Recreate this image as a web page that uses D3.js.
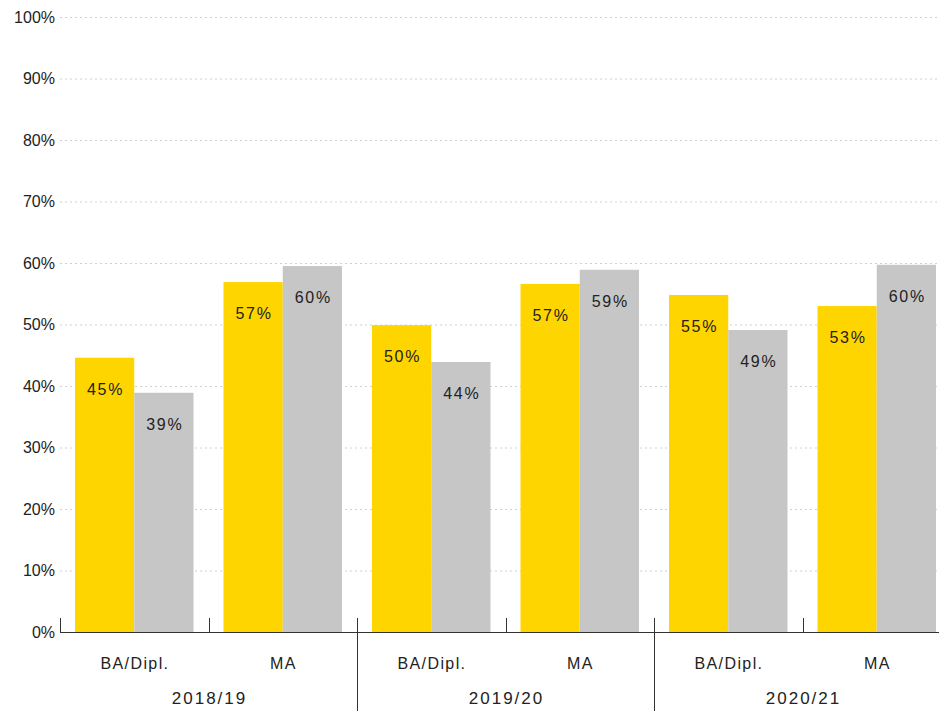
<!DOCTYPE html>
<html>
<head>
<meta charset="utf-8">
<script src="https://cdn.jsdelivr.net/npm/d3@7"></script>
<style>
  html, body { margin: 0; padding: 0; background: #fff; }
  svg { display: block; font-family: "Liberation Sans", Arial, sans-serif; }
</style>
</head>
<body>
<svg id="chart" width="939" height="711"></svg>
<script>
// Academic years and degree types
const years = ["2018/19", "2019/20", "2020/21"];
const degrees = ["BA/Dipl.", "MA"];
// Shares per year × degree (first series: yellow, second series: grey)
const seriesA = [44.6, 56.9, 49.9, 56.6, 54.8, 53.0];
const seriesB = [38.9, 59.5, 43.9, 58.9, 49.1, 59.7];
const yTicks = [0, 10, 20, 30, 40, 50, 60, 70, 80, 90, 100];

const colors = ["#FFD500", "#C6C6C6"];
const textColor = "#222";

const svg = d3.select("#chart");
const x0 = 60, x1 = 951, yBottom = 632, yTop = 17;

// One band per year/degree pair
const cells = [];
years.forEach((yr, i) => degrees.forEach((dg, j) => {
  const k = i * degrees.length + j;
  cells.push({ key: yr + "|" + dg, year: yr, degree: dg, values: [seriesA[k], seriesB[k]] });
}));

const x = d3.scaleBand().domain(cells.map(d => d.key)).range([x0, x1]).paddingInner(0).paddingOuter(0);
const xi = d3.scaleBand().domain([0, 1]).range([15, x.bandwidth() - 15]);
const y = d3.scaleLinear().domain([0, 100]).range([yBottom, yTop]);

// Dotted horizontal gridlines
svg.append("g").selectAll("line").data(yTicks.filter(t => t > 0)).join("line")
  .attr("x1", x0).attr("x2", 939)
  .attr("y1", d => y(d) + 0.5).attr("y2", d => y(d) + 0.5)
  .attr("stroke", "#d0d0d0").attr("stroke-width", 1).attr("stroke-dasharray", "2,3");

// Y axis labels
const yAxis = d3.axisLeft(y).tickValues(yTicks).tickFormat(d => d + "%").tickSize(0).tickPadding(5);
const gy = svg.append("g").attr("transform", `translate(${x0},0)`).call(yAxis);
gy.select(".domain").remove();
gy.selectAll("text").attr("fill", textColor).style("font-size", "16px");

// Bars
const groups = svg.append("g").selectAll("g").data(cells).join("g")
  .attr("transform", d => `translate(${x(d.key)},0)`);
groups.selectAll("rect").data(d => d.values.map((v, i) => ({ v, i }))).join("rect")
  .attr("x", d => xi(d.i)).attr("width", xi.bandwidth())
  .attr("y", d => y(d.v)).attr("height", d => yBottom - y(d.v))
  .attr("fill", d => colors[d.i]);

// Value labels inside the bars
groups.selectAll("text").data(d => d.values.map((v, i) => ({ v, i }))).join("text")
  .attr("x", d => xi(d.i) + xi.bandwidth() / 2 + 1)
  .attr("y", d => y(d.v) + 33)
  .attr("text-anchor", "middle").attr("dominant-baseline", "middle")
  .attr("fill", textColor).style("font-size", "16px").style("letter-spacing", "1.8px")
  .text(d => Math.round(d.v) + "%");

// Baseline
svg.append("line").attr("x1", x0).attr("x2", 939).attr("y1", yBottom + 0.5).attr("y2", yBottom + 0.5)
  .attr("stroke", "#333").attr("stroke-width", 1.2);

// Band separators: short ticks within a year, long lines between years
const boundaries = cells.map((d, i) => ({ pos: x(d.key), yearStart: i % degrees.length === 0 && i > 0 }));
svg.append("g").selectAll("line").data(boundaries).join("line")
  .attr("x1", d => Math.round(d.pos) + 0.5).attr("x2", d => Math.round(d.pos) + 0.5)
  .attr("y1", yBottom - 14).attr("y2", d => d.yearStart ? 711 : yBottom)
  .attr("stroke", "#333").attr("stroke-width", 1);

// Degree labels
svg.append("g").selectAll("text").data(cells).join("text")
  .attr("x", d => x(d.key) + x.bandwidth() / 2 + 0.7).attr("y", 665)
  .attr("text-anchor", "middle").attr("dominant-baseline", "middle")
  .attr("fill", textColor).style("font-size", "16px").style("letter-spacing", "1.4px")
  .text(d => d.degree);

// Year labels
svg.append("g").selectAll("text").data(years).join("text")
  .attr("x", (d, i) => x(cells[i * degrees.length].key) + x.bandwidth() * degrees.length / 2 + 1)
  .attr("y", 700)
  .attr("text-anchor", "middle").attr("dominant-baseline", "middle")
  .attr("fill", textColor).style("font-size", "17px").style("letter-spacing", "2px")
  .text(d => d);
</script>
</body>
</html>
